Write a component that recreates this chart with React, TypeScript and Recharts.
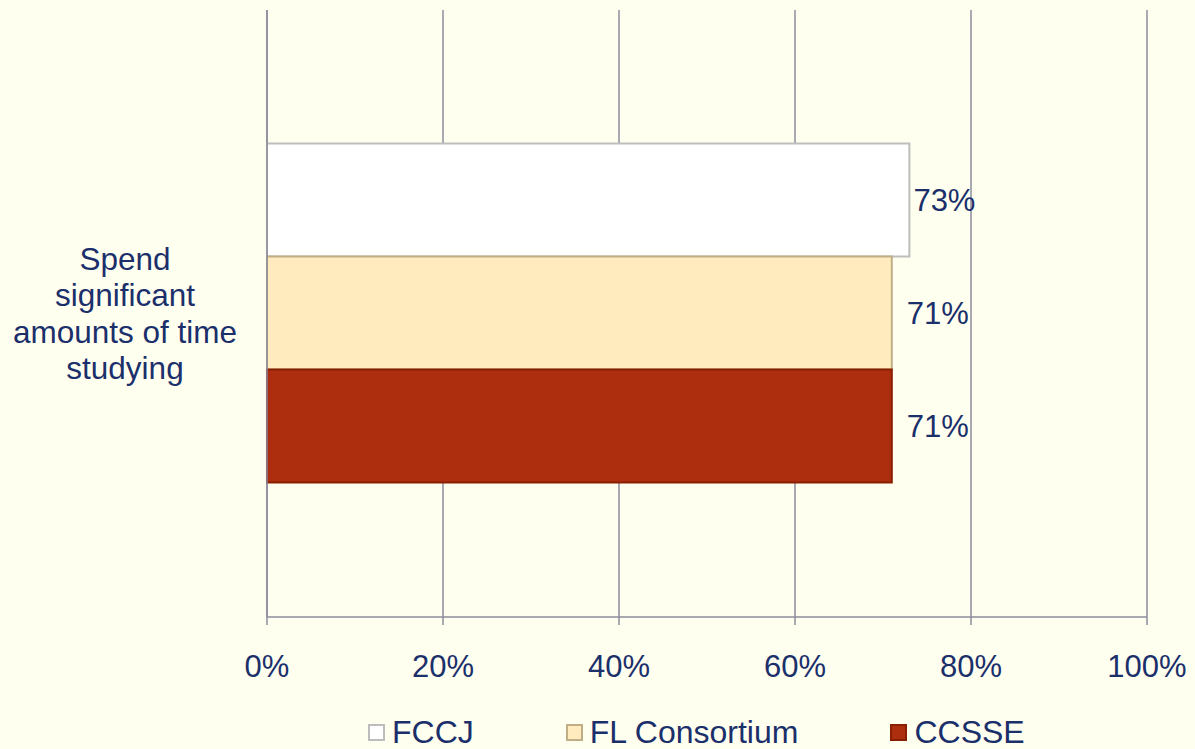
import { Bar, BarChart, CartesianGrid, LabelList, Legend, XAxis, YAxis } from 'recharts';

const categories = ['Spend\nsignificant\namounts of time\nstudying'];
const fccj = [73];
const flConsortium = [71];
const ccsse = [71];
const xTicks = [0, 20, 40, 60, 80, 100];

const seriesInfo = [
  { key: 'FCCJ', fill: '#FFFFFF', stroke: '#BDBDBD', labelOffset: 4 },
  { key: 'FL Consortium', fill: '#FFEBBE', stroke: '#BFAE86', labelOffset: 15 },
  { key: 'CCSSE', fill: '#AD2E0E', stroke: '#8A1E00', labelOffset: 15 },
];

const data = categories.map((name, i) => ({
  name,
  FCCJ: fccj[i],
  'FL Consortium': flConsortium[i],
  CCSSE: ccsse[i],
}));

const NAVY = '#1B2F6B';
const GRID = '#8C8C9C';
const FONT = '"Liberation Sans", Arial, sans-serif';

function CategoryTick({ y, payload }: any) {
  const lines = String(payload.value).split('\n');
  const lh = 36.5;
  const start = y - ((lines.length - 1) * lh) / 2;
  return (
    <text x={125} y={start} textAnchor="middle" fill={NAVY} fontSize={31.5} fontFamily={FONT} dominantBaseline="central">
      {lines.map((line, i) => (
        <tspan key={i} x={125} y={start + i * lh}>
          {line}
        </tspan>
      ))}
    </text>
  );
}

function LegendContent() {
  return (
    <div style={{ display: 'flex', gap: 92, fontFamily: FONT, fontSize: 32, color: NAVY, lineHeight: '36px' }}>
      {seriesInfo.map((s) => (
        <div key={s.key} style={{ display: 'flex', alignItems: 'center' }}>
          <span style={{ display: 'inline-block', width: 13, height: 13, background: s.fill, border: `2px solid ${s.stroke}`, marginRight: 7 }} />
          {s.key}
        </div>
      ))}
    </div>
  );
}

export default function App() {
  return (
    <div style={{ position: 'absolute', left: 0, top: 0, width: 1195, height: 749, background: '#FFFFF0' }}>
      <BarChart
        width={1195}
        height={749}
        data={data}
        layout="vertical"
        margin={{ top: 10, right: 48, left: 0, bottom: 0 }}
        barCategoryGap="22%"
        barGap={0}
      >
        <CartesianGrid horizontal={false} stroke={GRID} strokeWidth={1.5} />
        <XAxis
          type="number"
          domain={[0, 100]}
          ticks={xTicks}
          tickFormatter={(v) => `${v}%`}
          axisLine={{ stroke: GRID, strokeWidth: 1.5 }}
          tickLine={{ stroke: GRID, strokeWidth: 1.5 }}
          tickSize={8}
          tickMargin={30}
          height={96}
          tick={{ fill: NAVY, fontSize: 31, fontFamily: FONT }}
          interval={0}
        />
        <YAxis
          type="category"
          dataKey="name"
          width={267}
          axisLine={{ stroke: GRID, strokeWidth: 1.5 }}
          tickLine={false}
          tick={<CategoryTick />}
        />
        {seriesInfo.map((s) => (
          <Bar key={s.key} dataKey={s.key} fill={s.fill} stroke={s.stroke} strokeWidth={2} isAnimationActive={false}>
            <LabelList
              dataKey={s.key}
              position="right"
              offset={s.labelOffset}
              formatter={(v: any) => `${v}%`}
              fill={NAVY}
              fontSize={31}
              fontFamily={FONT}
            />
          </Bar>
        ))}
        <Legend content={<LegendContent />} wrapperStyle={{ left: 368, top: 714, width: 'auto' }} />
      </BarChart>
    </div>
  );
}
